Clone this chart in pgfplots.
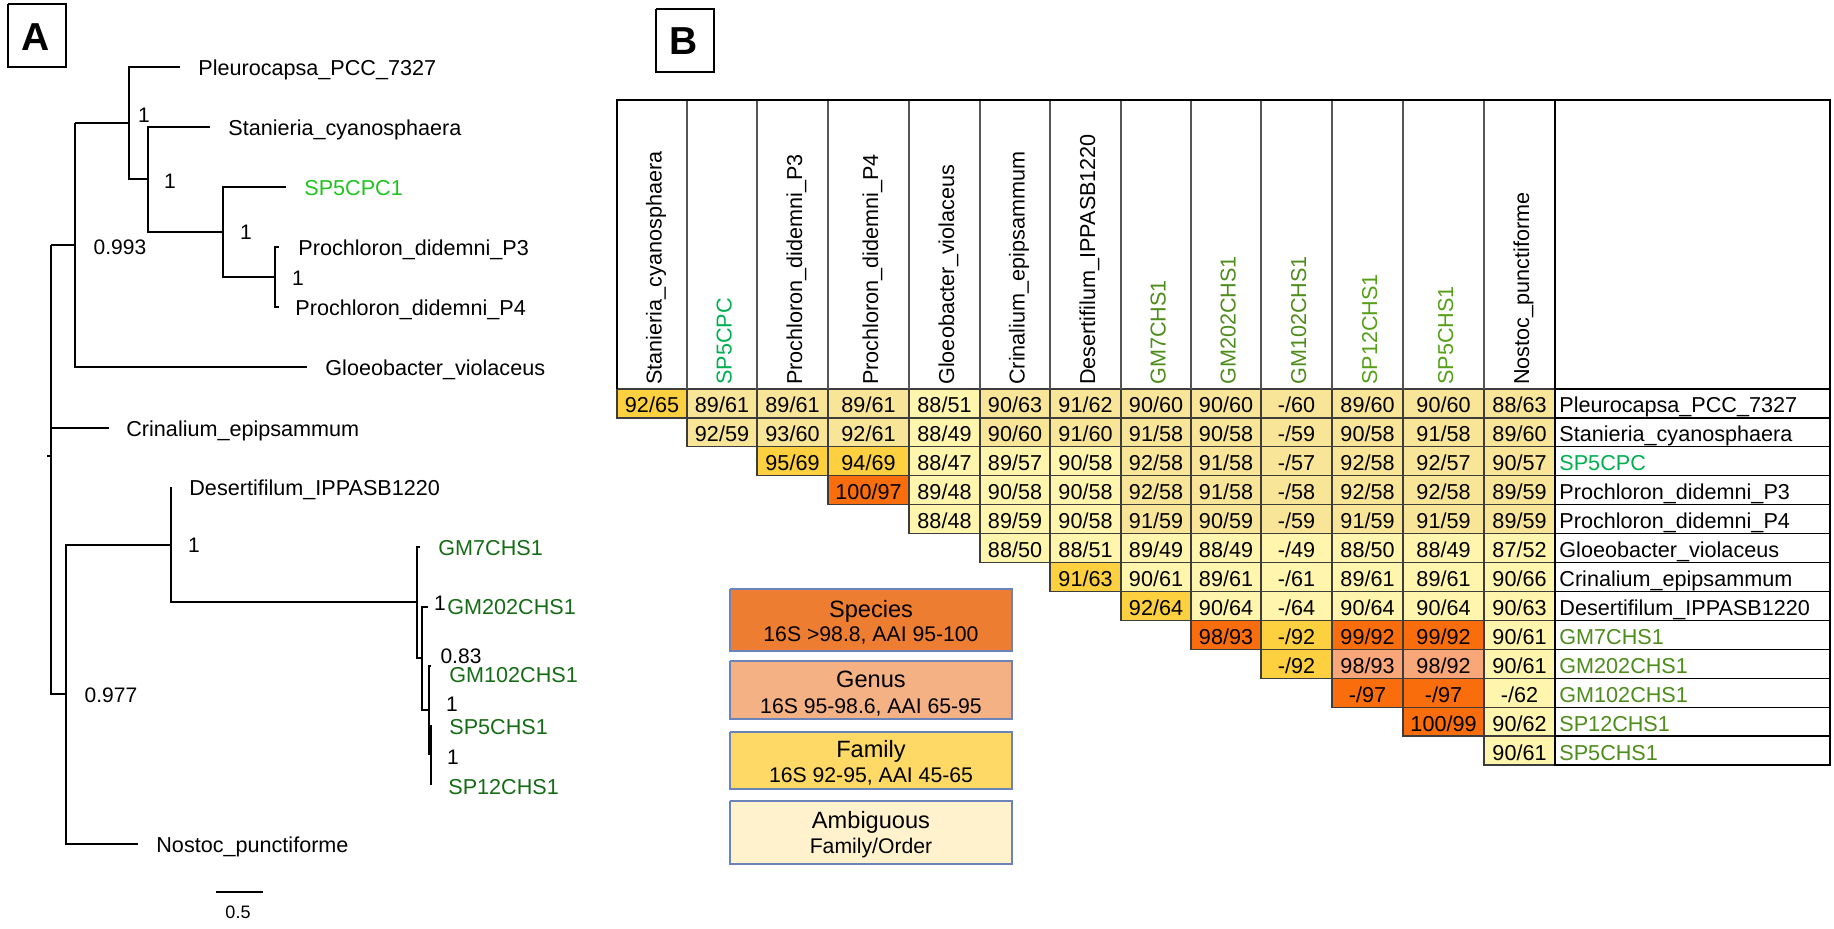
\documentclass[border=0pt]{standalone}
\usepackage{pgfplots}
\pgfplotsset{compat=1.18}
\usepackage{fontspec}
\setmainfont{Liberation Sans}

\definecolor{famc}{HTML}{FDD03F}
\definecolor{spc}{HTML}{FA6D0C}
\definecolor{genc}{HTML}{F9A778}
\definecolor{ambD}{HTML}{F8E597}
\definecolor{ambL}{HTML}{FFF5AC}
\definecolor{legS}{HTML}{ED7D31}
\definecolor{legG}{HTML}{F4B183}
\definecolor{legF}{HTML}{FFD966}
\definecolor{legA}{HTML}{FFF2CC}
\definecolor{legB}{HTML}{6A83B8}
\definecolor{bgreen}{HTML}{00B050}
\definecolor{olive}{HTML}{4E8C1C}
\definecolor{olivetwo}{HTML}{56A018}
\definecolor{treegreen}{HTML}{1FC41F}
\definecolor{treedark}{HTML}{166C16}
\definecolor{cellline}{HTML}{3C3C3C}
\definecolor{hdrline}{HTML}{555555}

\newcommand\cellfont{\fontsize{10.8}{12}\selectfont}
\newcommand\lblfont{\fontsize{10.8}{13}\selectfont}
\newcommand\supfont{\fontsize{10.5}{12}\selectfont}
\newcommand\legtitle{\fontsize{11.8}{14}\selectfont}
\newcommand\legsub{\fontsize{10.6}{12}\selectfont}
\def\colb{{617,687,757,828,909,980,1050,1121,1191,1261,1332,1403,1484,1555,1830}}

% cell: col, row, text, colour
\newcommand{\cell}[4]{%
  \pgfmathtruncatemacro\nx{#1+1}%
  \pgfmathsetmacro\xa{\colb[#1]}%
  \pgfmathsetmacro\xb{\colb[\nx]}%
  \pgfmathsetmacro\ya{389+28.923*#2}%
  \pgfmathsetmacro\yb{389+28.923*(#2+1)}%
  \pgfmathsetmacro\xm{(\xa+\xb)/2}%
  \pgfmathsetmacro\yt{(\ya+\yb)/2+9.5}%
  \edef\tmp{\noexpand\addplot[draw=cellline,fill=#4,line width=0.6pt] coordinates {(\xa,\ya) (\xb,\ya) (\xb,\yb) (\xa,\yb) (\xa,\ya)};
    \noexpand\node[anchor=base,inner sep=0pt,font=\noexpand\cellfont] at (axis cs:\xm,\yt) {\unexpanded{#3}};}%
  \tmp}
% row name: row, text, colour
\newcommand{\rname}[3]{%
  \pgfmathsetmacro\ya{389+28.923*#1}%
  \pgfmathsetmacro\yb{389+28.923*(#1+1)}%
  \pgfmathsetmacro\yt{(\ya+\yb)/2+9.5}%
  \edef\tmp{\noexpand\addplot[draw=black,fill=white,line width=0.6pt] coordinates {(1555,\ya) (1830,\ya) (1830,\yb) (1555,\yb) (1555,\ya)};
    \noexpand\node[anchor=base west,inner sep=0pt,font=\noexpand\lblfont,text=#3] at (axis cs:1559,\yt) {\unexpanded{#2}};}%
  \tmp}
% header: col, text, colour
\newcommand{\hdr}[3]{%
  \pgfmathtruncatemacro\nx{#1+1}%
  \pgfmathsetmacro\xa{\colb[#1]}%
  \pgfmathsetmacro\xb{\colb[\nx]}%
  \pgfmathsetmacro\xt{(\xa+\xb)/2+9.5}%
  \edef\tmp{\noexpand\addplot[draw=hdrline,line width=0.6pt] coordinates {(\xb,100) (\xb,389)};
    \noexpand\node[rotate=90,anchor=base west,inner sep=0pt,font=\noexpand\lblfont,text=#3] at (axis cs:\xt,385) {\unexpanded{#2}};}%
  \tmp}

\begin{document}
\begin{tikzpicture}
\begin{axis}[width=917pt, height=464pt, scale only axis,
  xmin=0, xmax=1834, ymin=0, ymax=928, y dir=reverse,
  hide axis, clip=false, no markers]
\addplot[draw=none] coordinates {(0,0) (1834,928)};

% ---------------- Panel A: tree ----------------
\addplot[black,line width=0.7pt] coordinates {(8,4) (66,4) (66,67) (8,67) (8,4)};
\node[font=\bfseries\fontsize{19.5}{22}\selectfont] at (axis cs:36,37.5) {A};

\addplot[black,line width=0.8pt] coordinates {(180,67) (129,67) (129,179) (148,179)};
\addplot[black,line width=0.8pt] coordinates {(75,123) (129,123)};
\addplot[black,line width=0.8pt] coordinates {(210,127) (148,127) (148,232) (223,232)};
\addplot[black,line width=0.8pt] coordinates {(286,187) (223,187) (223,277) (275,277)};
\addplot[black,line width=0.8pt] coordinates {(279,247) (275,247) (275,307) (279,307)};
\addplot[black,line width=0.8pt] coordinates {(51,245) (75,245)};
\addplot[black,line width=0.8pt] coordinates {(75,123) (75,367) (307,367)};
\addplot[black,line width=0.8pt] coordinates {(51,245) (51,694) (66,694)};
\addplot[black,line width=0.8pt] coordinates {(51,428) (109,428)};
\addplot[black,line width=0.8pt] coordinates {(47,456) (51,456)};
\addplot[black,line width=0.8pt] coordinates {(171,545) (66,545) (66,844) (138,844)};
\addplot[black,line width=0.8pt] coordinates {(171,487) (171,602) (417,602)};
\addplot[black,line width=0.8pt] coordinates {(420,547) (417,547) (417,658) (422,658)};
\addplot[black,line width=0.8pt] coordinates {(428,607) (422,607) (422,710) (429,710)};
\addplot[black,line width=0.8pt] coordinates {(431,666) (429,666) (429,754) (431,754)};
\addplot[black,line width=0.8pt] coordinates {(431,725) (431,785)};

\begin{scope}[every node/.style={anchor=base west,inner sep=0pt,font=\lblfont}]
\node at (axis cs:198,75) {Pleurocapsa\_PCC\_7327};
\node at (axis cs:228,135) {Stanieria\_cyanosphaera};
\node[text=treegreen] at (axis cs:304,195) {SP5CPC1};
\node at (axis cs:298,255) {Prochloron\_didemni\_P3};
\node at (axis cs:295,315) {Prochloron\_didemni\_P4};
\node at (axis cs:325,375) {Gloeobacter\_violaceus};
\node at (axis cs:126,436) {Crinalium\_epipsammum};
\node at (axis cs:189,495) {Desertifilum\_IPPASB1220};
\node[text=treedark] at (axis cs:438,555) {GM7CHS1};
\node[text=treedark] at (axis cs:447,614) {GM202CHS1};
\node[text=treedark] at (axis cs:449,682) {GM102CHS1};
\node[text=treedark] at (axis cs:449,734) {SP5CHS1};
\node[text=treedark] at (axis cs:448,794) {SP12CHS1};
\node at (axis cs:156,852) {Nostoc\_punctiforme};
\end{scope}
\begin{scope}[every node/.style={inner sep=0pt,font=\supfont}]
\node at (axis cs:144,115) {1};
\node at (axis cs:170,181) {1};
\node at (axis cs:246,232) {1};
\node at (axis cs:298,278) {1};
\node at (axis cs:120,247) {0.993};
\node at (axis cs:194,545) {1};
\node at (axis cs:440,603) {1};
\node at (axis cs:461,656) {0.83};
\node at (axis cs:452,704) {1};
\node at (axis cs:453,757) {1};
\node at (axis cs:111,695) {0.977};
\end{scope}
\addplot[black,line width=0.8pt] coordinates {(216,892) (263,892)};
\node[inner sep=0pt,font=\fontsize{9}{11}\selectfont] at (axis cs:238,912) {0.5};

% ---------------- Panel B: matrix ----------------
\addplot[black,line width=0.7pt] coordinates {(656,9) (714,9) (714,72) (656,72) (656,9)};
\node[font=\bfseries\fontsize{19.5}{22}\selectfont] at (axis cs:684,41.5) {B};

% row 0 Pleurocapsa
\cell{0}{0}{92/65}{famc}\cell{1}{0}{89/61}{ambD}\cell{2}{0}{89/61}{ambD}\cell{3}{0}{89/61}{ambD}
\cell{4}{0}{88/51}{ambL}\cell{5}{0}{90/63}{ambD}\cell{6}{0}{91/62}{ambD}\cell{7}{0}{90/60}{ambD}
\cell{8}{0}{90/60}{ambD}\cell{9}{0}{-/60}{ambD}\cell{10}{0}{89/60}{ambD}\cell{11}{0}{90/60}{ambD}\cell{12}{0}{88/63}{ambD}
% row 1 Stanieria
\cell{1}{1}{92/59}{ambD}\cell{2}{1}{93/60}{ambD}\cell{3}{1}{92/61}{ambD}\cell{4}{1}{88/49}{ambL}
\cell{5}{1}{90/60}{ambD}\cell{6}{1}{91/60}{ambD}\cell{7}{1}{91/58}{ambD}\cell{8}{1}{90/58}{ambD}
\cell{9}{1}{-/59}{ambD}\cell{10}{1}{90/58}{ambD}\cell{11}{1}{91/58}{ambD}\cell{12}{1}{89/60}{ambD}
% row 2 SP5CPC
\cell{2}{2}{95/69}{famc}\cell{3}{2}{94/69}{famc}\cell{4}{2}{88/47}{ambL}\cell{5}{2}{89/57}{ambL}
\cell{6}{2}{90/58}{ambL}\cell{7}{2}{92/58}{ambD}\cell{8}{2}{91/58}{ambD}\cell{9}{2}{-/57}{ambD}
\cell{10}{2}{92/58}{ambD}\cell{11}{2}{92/57}{ambD}\cell{12}{2}{90/57}{ambD}
% row 3 P3
\cell{3}{3}{100/97}{spc}\cell{4}{3}{89/48}{ambL}\cell{5}{3}{90/58}{ambL}\cell{6}{3}{90/58}{ambL}
\cell{7}{3}{92/58}{ambD}\cell{8}{3}{91/58}{ambD}\cell{9}{3}{-/58}{ambD}\cell{10}{3}{92/58}{ambD}
\cell{11}{3}{92/58}{ambD}\cell{12}{3}{89/59}{ambD}
% row 4 P4
\cell{4}{4}{88/48}{ambL}\cell{5}{4}{89/59}{ambL}\cell{6}{4}{90/58}{ambL}\cell{7}{4}{91/59}{ambD}
\cell{8}{4}{90/59}{ambD}\cell{9}{4}{-/59}{ambD}\cell{10}{4}{91/59}{ambD}\cell{11}{4}{91/59}{ambD}\cell{12}{4}{89/59}{ambD}
% row 5 Gloeobacter
\cell{5}{5}{88/50}{ambL}\cell{6}{5}{88/51}{ambL}\cell{7}{5}{89/49}{ambL}\cell{8}{5}{88/49}{ambL}
\cell{9}{5}{-/49}{ambL}\cell{10}{5}{88/50}{ambL}\cell{11}{5}{88/49}{ambL}\cell{12}{5}{87/52}{ambL}
% row 6 Crinalium
\cell{6}{6}{91/63}{famc}\cell{7}{6}{90/61}{ambL}\cell{8}{6}{89/61}{ambL}\cell{9}{6}{-/61}{ambL}
\cell{10}{6}{89/61}{ambL}\cell{11}{6}{89/61}{ambL}\cell{12}{6}{90/66}{ambL}
% row 7 Desertifilum
\cell{7}{7}{92/64}{famc}\cell{8}{7}{90/64}{ambL}\cell{9}{7}{-/64}{ambL}\cell{10}{7}{90/64}{ambL}
\cell{11}{7}{90/64}{ambL}\cell{12}{7}{90/63}{ambL}
% row 8 GM7CHS1
\cell{8}{8}{98/93}{spc}\cell{9}{8}{-/92}{famc}\cell{10}{8}{99/92}{spc}\cell{11}{8}{99/92}{spc}\cell{12}{8}{90/61}{ambL}
% row 9 GM202CHS1
\cell{9}{9}{-/92}{famc}\cell{10}{9}{98/93}{genc}\cell{11}{9}{98/92}{genc}\cell{12}{9}{90/61}{ambL}
% row 10 GM102CHS1
\cell{10}{10}{-/97}{spc}\cell{11}{10}{-/97}{spc}\cell{12}{10}{-/62}{ambL}
% row 11 SP12CHS1
\cell{11}{11}{100/99}{spc}\cell{12}{11}{90/62}{ambL}
% row 12 SP5CHS1
\cell{12}{12}{90/61}{ambL}

% row names
\rname{0}{Pleurocapsa\_PCC\_7327}{black}
\rname{1}{Stanieria\_cyanosphaera}{black}
\rname{2}{SP5CPC}{bgreen}
\rname{3}{Prochloron\_didemni\_P3}{black}
\rname{4}{Prochloron\_didemni\_P4}{black}
\rname{5}{Gloeobacter\_violaceus}{black}
\rname{6}{Crinalium\_epipsammum}{black}
\rname{7}{Desertifilum\_IPPASB1220}{black}
\rname{8}{GM7CHS1}{olive}
\rname{9}{GM202CHS1}{olive}
\rname{10}{GM102CHS1}{olive}
\rname{11}{SP12CHS1}{olive}
\rname{12}{SP5CHS1}{olive}

% header
\hdr{0}{Stanieria\_cyanosphaera}{black}
\hdr{1}{SP5CPC}{bgreen}
\hdr{2}{Prochloron\_didemni\_P3}{black}
\hdr{3}{Prochloron\_didemni\_P4}{black}
\hdr{4}{Gloeobacter\_violaceus}{black}
\hdr{5}{Crinalium\_epipsammum}{black}
\hdr{6}{Desertifilum\_IPPASB1220}{black}
\hdr{7}{GM7CHS1}{olive}
\hdr{8}{GM202CHS1}{olive}
\hdr{9}{GM102CHS1}{olive}
\hdr{10}{SP12CHS1}{olivetwo}
\hdr{11}{SP5CHS1}{olivetwo}
\hdr{12}{Nostoc\_punctiforme}{black}
\addplot[black,line width=0.7pt] coordinates {(617,389) (617,100) (1830,100) (1830,389)};
\addplot[black,line width=0.6pt] coordinates {(1555,100) (1555,389)};

% legend boxes
\addplot[fill=legS,draw=legB,line width=0.6pt] coordinates {(730,589) (1012,589) (1012,651) (730,651) (730,589)};
\addplot[fill=legG,draw=legB,line width=0.6pt] coordinates {(730,661) (1012,661) (1012,719) (730,719) (730,661)};
\addplot[fill=legF,draw=legB,line width=0.6pt] coordinates {(730,732) (1012,732) (1012,789) (730,789) (730,732)};
\addplot[fill=legA,draw=legB,line width=0.6pt] coordinates {(730,801) (1012,801) (1012,864) (730,864) (730,801)};
\begin{scope}[every node/.style={anchor=base,inner sep=0pt}]
\node[font=\legtitle] at (axis cs:871,617) {Species};
\node[font=\legsub] at (axis cs:871,641) {16S >98.8, AAI 95-100};
\node[font=\legtitle] at (axis cs:871,687) {Genus};
\node[font=\legsub] at (axis cs:871,713) {16S 95-98.6, AAI 65-95};
\node[font=\legtitle] at (axis cs:871,757) {Family};
\node[font=\legsub] at (axis cs:871,782) {16S 92-95, AAI 45-65};
\node[font=\legtitle] at (axis cs:871,828) {Ambiguous};
\node[font=\legsub] at (axis cs:871,853) {Family/Order};
\end{scope}
\end{axis}
\end{tikzpicture}
\end{document}
